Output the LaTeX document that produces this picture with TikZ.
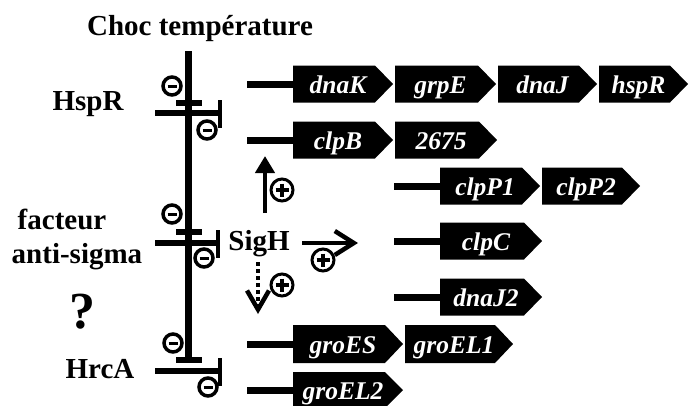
\documentclass[tikz,border=0pt]{standalone}
\usepackage{fontspec}
\setmainfont{Liberation Serif}
\usetikzlibrary{arrows.meta}
\newcommand\genebox[6]{%
  \fill (#2,#4-#5) -- (#3-18,#4-#5) -- (#3,#4) -- (#3-18,#4+#5) -- (#2,#4+#5) -- cycle;
  \node[genetxt] (#1) at ({(#2+#3)/2-5},#4+9) {#6};}
\newcommand\minuscirc[3]{%
  \node[ringnode, line width=3.5pt, minimum size=18pt] (#1) at (#2,#3) {};
  \draw[line width=3pt] (#2-4.5,#3) -- (#2+4.5,#3);}
\newcommand\pluscirc[3]{%
  \node[ringnode, minimum size=22pt] (#1) at (#2,#3) {};
  \draw[line width=3.5pt] (#2-6.5,#3) -- (#2+6.5,#3) (#2,#3-6.5) -- (#2,#3+6.5);}
\begin{document}
\begin{tikzpicture}[x=1pt,y=-1pt,
  lab/.style={font=\fontsize{29}{31}\selectfont\bfseries, anchor=base, inner sep=0pt},
  genetxt/.style={font=\fontsize{25.5}{27}\selectfont\bfseries\itshape, text=white, anchor=base, inner sep=0pt},
  prom/.style={line width=7pt},
  bar/.style={line width=6.5pt},
  tick/.style={line width=4.5pt},
  ringnode/.style={circle, draw, line width=3pt, fill=white, inner sep=0pt, outer sep=0pt},
  act/.style={line width=4.5pt}]
\useasboundingbox (0,0) rectangle (689,405);

% labels
\node[lab] (choc) at (200,35) {Choc température};
\node[lab] (hspr) at (88,110) {HspR};
\node[lab] (fact) at (62,229) {facteur};
\node[lab] (anti) at (77,263) {anti-sigma};
\node[lab, font=\fontsize{52}{54}\selectfont\bfseries] (q) at (82,328) {?};
\node[lab] (hrca) at (100,378) {HrcA};
\node[lab] (sigh) at (259,250) {SigH};

% main signal line
\coordinate (top) at (188,51);
\coordinate (bot) at (188,360);
\draw[line width=7pt] (top) -- (bot);

% regulators: short T bar, long bar with tick
\foreach \ys/\yl/\xr in {103/113/220, 232/243/218, 360/371/220}{
  \draw[bar] (176,\ys) -- (202,\ys);
  \draw[bar] (155,\yl) -- (\xr,\yl);
  \draw[tick] (\xr,\yl-13) -- (\xr,\yl+15);
}

\minuscirc{m1}{172}{86}
\minuscirc{m2}{207}{130}
\minuscirc{m3}{172}{214}
\minuscirc{m4}{204}{258}
\minuscirc{m5}{173}{343}
\minuscirc{m6}{208}{387}

% SigH activations
\coordinate (upS) at (265,213);
\coordinate (upE) at (265,156);
\draw[act,-{Triangle[length=17pt,width=19pt]}] (upS) -- (upE);
\pluscirc{p1}{282}{190}

\coordinate (rtS) at (302,243);
\coordinate (rtE) at (358,243);
\draw[act,-{Straight Barb[length=19pt,width=24pt]}] (rtS) -- (rtE);
\pluscirc{p2}{323}{260}

\coordinate (dnS) at (258,262);
\coordinate (dnE) at (258,314);
\draw[act,dash pattern=on 4pt off 3pt,-{Straight Barb[length=19pt,width=22pt]}] (dnS) -- (dnE);
\pluscirc{p3}{282}{285}

% promoter lines
\draw[prom] (247,84) -- (293,84);
\draw[prom] (247,140) -- (293,140);
\draw[prom] (394,186) -- (440,186);
\draw[prom] (394,241) -- (440,241);
\draw[prom] (394,297) -- (440,297);
\draw[prom] (247,344) -- (293,344);
\draw[prom] (247,390) -- (293,390);

% genes
\genebox{dnaK}{293}{393}{84}{18.5}{dnaK}
\genebox{grpE}{395}{496}{84}{18.5}{grpE}
\genebox{dnaJ}{498}{597}{84}{18.5}{dnaJ}
\genebox{hspR}{599}{688}{84}{18.5}{hspR}
\genebox{clpB}{293}{393}{140}{18.5}{clpB}
\genebox{g2675}{395}{497}{140}{18.5}{2675}
\genebox{clpP1}{440}{540}{186}{18.5}{clpP1}
\genebox{clpP2}{542}{640}{186}{18.5}{clpP2}
\genebox{clpC}{440}{542}{241}{18.5}{clpC}
\genebox{dnaJ2}{440}{542}{297}{18.5}{dnaJ2}
\genebox{groES}{293}{403}{344}{19}{groES}
\genebox{groEL1}{405}{513}{344}{19}{groEL1}
\genebox{groEL2}{293}{403}{390}{18}{groEL2}
\end{tikzpicture}
\end{document}
